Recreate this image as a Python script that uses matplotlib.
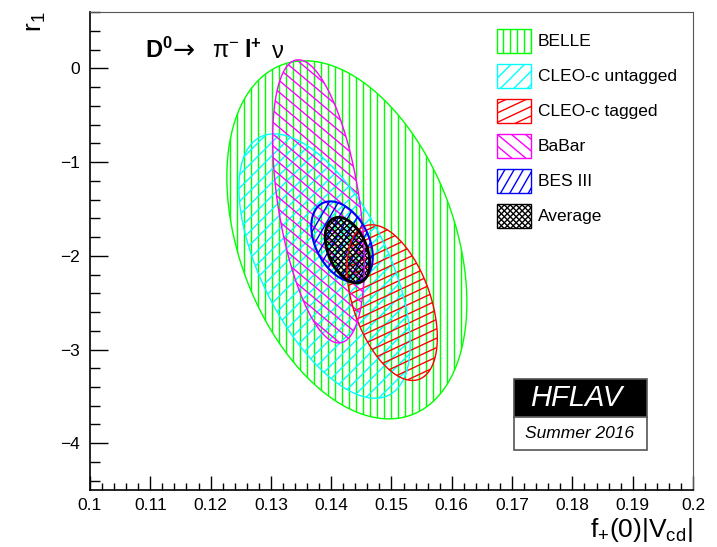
import numpy as np
import matplotlib
matplotlib.use("Agg")
import matplotlib.pyplot as plt
from matplotlib.patches import Polygon, Rectangle
from matplotlib.collections import LineCollection
from matplotlib.ticker import MultipleLocator, FuncFormatter

plt.rcParams['font.family'] = ['Liberation Sans', 'DejaVu Sans']
plt.rcParams['mathtext.fontset'] = 'custom'
plt.rcParams['mathtext.rm'] = 'Liberation Sans'
plt.rcParams['mathtext.it'] = 'Liberation Sans:italic'
plt.rcParams['mathtext.bf'] = 'Liberation Sans:bold'

names = ["BELLE", "CLEO-c untagged", "CLEO-c tagged", "BaBar", "BES III", "Average"]
cx = [0.1426, 0.1389, 0.1501, 0.1379, 0.1418, 0.1427]
cy = [-1.83, -2.11, -2.50, -1.42, -1.85, -1.94]
sx = [0.0199, 0.0142, 0.0075, 0.0076, 0.0051, 0.0037]
sy = [1.91, 1.41, 0.83, 1.51, 0.43, 0.35]
rho = [-0.35, -0.59, -0.45, -0.44, -0.38, -0.40]

colors = ["#00ff00", "#00ffff", "#ff0000", "#ff00ff", "#0000ff", "#000000"]
# hatch: list of (angle in degrees, spacing in px)
hatches = [[(90, 7)], [(45, 9.5)], [(25, 8.5)], [(-40, 9)], [(60, 8)], [(45, 4.2), (-45, 4.2)]]
edge_lw = [1.0, 1.0, 1.0, 1.0, 1.5, 2.0]

fig = plt.figure(figsize=(7.17, 5.47), dpi=100)
ax = fig.add_axes([0.1255, 0.104, 0.841, 0.874])
ax.set_xlim(0.1, 0.2)
ax.set_ylim(-4.5, 0.6)

bb = ax.get_window_extent()
W, H = bb.width, bb.height


def hatch(patch, angle, spacing, color, lw=1.0):
    t = np.radians(angle)
    d = np.array([np.cos(t), np.sin(t)])
    n = np.array([-np.sin(t), np.cos(t)])
    diag = np.hypot(W, H)
    c = np.array([W / 2, H / 2])
    segs = []
    for o in np.arange(-diag, diag, spacing):
        p0 = (c + o * n - diag * d) / [W, H]
        p1 = (c + o * n + diag * d) / [W, H]
        segs.append([p0, p1])
    lc = LineCollection(segs, transform=ax.transAxes, colors=color, linewidths=lw)
    ax.add_collection(lc)
    lc.set_clip_path(patch)


def px(x, y):
    # figure pixel (from top-left) -> axes fraction
    return (x - 90) / W, 1 - (y - 12) / H


t = np.linspace(0, 2 * np.pi, 400)
for i in range(len(names)):
    ex = cx[i] + sx[i] * np.cos(t)
    ey = cy[i] + sy[i] * (rho[i] * np.cos(t) + np.sqrt(1 - rho[i] ** 2) * np.sin(t))
    poly = Polygon(np.column_stack([ex, ey]), closed=True, facecolor='none',
                   edgecolor=colors[i], linewidth=edge_lw[i], zorder=3 + i)
    ax.add_patch(poly)
    for ang, sp in hatches[i]:
        hatch(poly, ang, sp, colors[i])

# legend drawn by hand (hatch angles are not the matplotlib ones)
for i, name in enumerate(names):
    bx, by = px(497, 53 + 35 * i)
    box = Rectangle((bx, by), 34 / W, 24 / H, transform=ax.transAxes,
                    facecolor='none', edgecolor=colors[i], linewidth=1.0, zorder=20)
    ax.add_patch(box)
    for ang, sp in hatches[i]:
        hatch(box, ang, sp, colors[i])
    ax.text(*px(538, 41 + 35 * i), name, transform=ax.transAxes, fontsize=12.5,
            va='center', ha='left')

# decay label, in pieces
ax.text(*px(145, 58), r'$\mathbf{D^{0}}$', transform=ax.transAxes, fontsize=17, va='baseline')
ax.text(*px(173, 58), '\u2192', transform=ax.transAxes, fontsize=19, va='baseline',
        family='DejaVu Sans')
ax.text(*px(212, 58), r'$\mathrm{π^{-}}$', transform=ax.transAxes, fontsize=17, va='baseline')
ax.text(*px(244, 58), r'$\mathbf{l^{+}}$', transform=ax.transAxes, fontsize=17, va='baseline')
ax.text(*px(272, 58), 'ν', transform=ax.transAxes, fontsize=17, va='baseline')

# HFLAV logo
lx0, lx1 = (514 - 90) / W, (647 - 90) / W
ax.add_patch(Rectangle((lx0, 1 - (417 - 12) / H), lx1 - lx0, 38 / H, transform=ax.transAxes,
                       facecolor='black', edgecolor='#555555', linewidth=1.2, zorder=30))
ax.add_patch(Rectangle((lx0, 1 - (450 - 12) / H), lx1 - lx0, 33 / H, transform=ax.transAxes,
                       facecolor='white', edgecolor='#555555', linewidth=1.2, zorder=30))
ax.text(*px(576, 398), 'HFLAV', color='white', style='italic',
        fontsize=21, ha='center', va='center', transform=ax.transAxes, zorder=31)
ax.text(*px(580, 433), 'Summer 2016', color='black', style='italic',
        fontsize=12.5, ha='center', va='center', transform=ax.transAxes, zorder=31)

ax.xaxis.set_major_locator(MultipleLocator(0.01))
ax.xaxis.set_minor_locator(MultipleLocator(0.002))
ax.yaxis.set_major_locator(MultipleLocator(1))
ax.yaxis.set_minor_locator(MultipleLocator(0.2))
ax.xaxis.set_major_formatter(FuncFormatter(lambda v, p: '%g' % round(v, 3)))
ax.yaxis.set_major_formatter(FuncFormatter(lambda v, p: ('%g' % round(v, 3)).replace('-', '\u2212')))
ax.tick_params(axis='x', which='major', direction='in', length=10, width=1, labelsize=12.5, pad=6,
               top=False)
ax.tick_params(axis='x', which='minor', direction='in', length=5, width=1, top=False)
ax.tick_params(axis='y', which='major', direction='in', length=13, width=1, labelsize=12.5, pad=7,
               right=False)
ax.tick_params(axis='y', which='minor', direction='in', length=7, width=1, right=False)
for s in ['top', 'right']:
    ax.spines[s].set_color('#555555')
for s in ['left', 'bottom']:
    ax.spines[s].set_linewidth(1.2)

ax.set_xlabel(r'$\mathregular{f_{+}(0)|V_{cd}|}$', fontsize=19, loc='right', labelpad=2)
ax.set_ylabel(r'$\mathregular{r_{1}}$', fontsize=19, loc='top', labelpad=9)

fig.savefig('out.png', dpi=100)
